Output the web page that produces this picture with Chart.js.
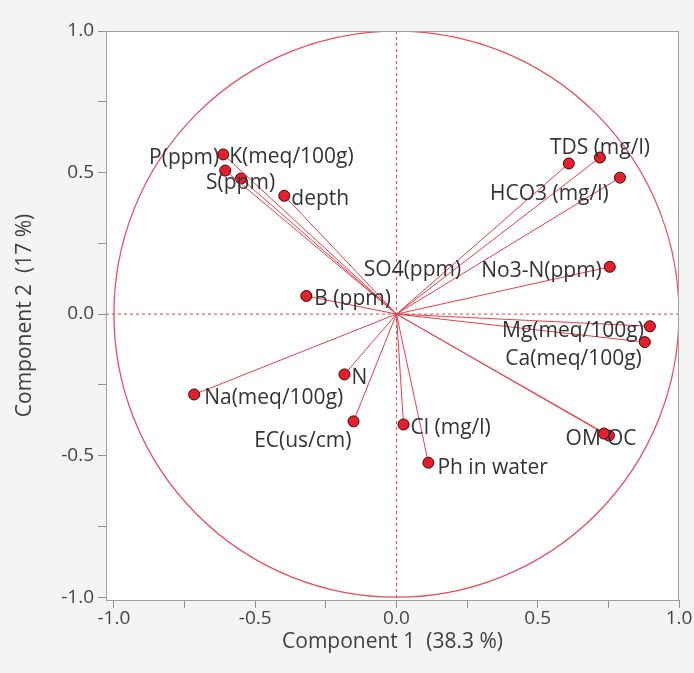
<!DOCTYPE html>
<html>
<head>
<meta charset="utf-8">
<script src="https://cdn.jsdelivr.net/npm/chart.js@4.4.0/dist/chart.umd.min.js"></script>
<style>
  html, body { margin: 0; padding: 0; background: #f4f4f4; }
  #wrap { width: 694px; height: 673px; }
</style>
</head>
<body>
<div id="wrap"><canvas id="c" width="694" height="673"></canvas></div>
<script>
// ---- data ----
const variables = ['P(ppm)', 'K(meq/100g)', 'S(ppm)', 'depth', 'TDS (mg/l)', 'HCO3 (mg/l)', 'SO4(ppm)',
  'No3-N(ppm)', 'B (ppm)', 'Mg(meq/100g)', 'Ca(meq/100g)', 'OM', 'OC', 'Na(meq/100g)', 'N',
  'EC(us/cm)', 'Cl (mg/l)', 'Ph in water'];
const component1 = [-0.606, -0.613, -0.550, -0.397, 0.720, 0.791, 0.610, 0.755, -0.319, 0.897, 0.879,
  0.734, 0.752, -0.716, -0.184, -0.152, 0.025, 0.113];
const component2 = [0.507, 0.564, 0.479, 0.418, 0.553, 0.482, 0.532, 0.167, 0.064, -0.043, -0.099,
  -0.422, -0.429, -0.284, -0.213, -0.379, -0.390, -0.525];
const tickValues = [-1, -0.75, -0.5, -0.25, 0, 0.25, 0.5, 0.75, 1];
const tickLabels = ['-1.0', '', '-0.5', '', '0.0', '', '0.5', '', '1.0'];
const xTitle = 'Component 1  (38.3 %)';
const yTitle = 'Component 2  (17 %)';

// ---- label placement (style, not data): [dx, dy, align] ----
const labelPlacement = [
  [-6, -15, 'right'], [6, 1, 'left'], [-35, 3, 'left'], [7, 1, 'left'],
  [-50, -12, 'left'], [-130, 14, 'left'], [-205, 105, 'left'], [-8, 2, 'right'],
  [8, 1, 'left'], [-6, 3, 'right'], [-3, 15, 'right'], [-3, 3, 'right'],
  [-2, 1, 'left'], [10, 2, 'left'], [7, 2, 'left'], [-2, 18, 'right'],
  [7, 2, 'left'], [9, 3, 'left']
];
const LABEL_SHIFT_Y = 2;

const FONT = '"Open Sans", "Noto Sans", sans-serif';
const RED = '#e8404a';

const datasets = variables.map((name, i) => ({
  label: name,
  data: [{x: 0, y: 0}, {x: component1[i], y: component2[i]}],
  showLine: true,
  borderColor: RED,
  borderWidth: 1,
  pointRadius: [0, 5.5],
  pointBackgroundColor: '#e5202c',
  pointBorderColor: '#3a0508',
  pointBorderWidth: 1,
  order: 1
}));

const bgPlugin = {
  id: 'bg',
  beforeDraw(chart) {
    const {ctx, chartArea: a} = chart;
    ctx.save();
    ctx.fillStyle = '#f4f4f4';
    ctx.fillRect(0, 0, chart.width, chart.height);
    ctx.fillStyle = '#ffffff';
    ctx.fillRect(a.left, a.top, a.right - a.left, a.bottom - a.top);
    ctx.restore();
  },
  beforeDatasetsDraw(chart) {
    const {ctx, chartArea: a, scales: {x, y}} = chart;
    ctx.save();
    ctx.beginPath();
    ctx.rect(a.left, a.top, a.right - a.left, a.bottom - a.top);
    ctx.clip();
    ctx.strokeStyle = RED;
    ctx.lineWidth = 1;
    ctx.setLineDash([3, 3]);
    const x0 = x.getPixelForValue(0), y0 = y.getPixelForValue(0);
    ctx.beginPath();
    ctx.moveTo(x0, a.top); ctx.lineTo(x0, a.bottom);
    ctx.moveTo(a.left, y0); ctx.lineTo(a.right, y0);
    ctx.stroke();
    ctx.setLineDash([]);
    const rx = x.getPixelForValue(1) - x0;
    const ry = y0 - y.getPixelForValue(1);
    ctx.strokeStyle = '#e4505a';
    ctx.lineWidth = 1.3;
    ctx.beginPath();
    ctx.ellipse(x0, y0, rx, ry, 0, 0, Math.PI * 2);
    ctx.stroke();
    ctx.restore();
  },
  afterDatasetsDraw(chart) {
    const {ctx} = chart;
    ctx.save();
    ctx.font = '21px ' + FONT;
    ctx.fillStyle = '#333333';
    ctx.textBaseline = 'middle';
    chart.data.datasets.forEach((ds, i) => {
      const el = chart.getDatasetMeta(i).data[1];
      const [dx, dy, al] = labelPlacement[i];
      ctx.textAlign = al;
      ctx.fillText(ds.label, el.x + dx, el.y + dy + LABEL_SHIFT_Y);
    });
    ctx.restore();
  },
  afterDraw(chart) {
    const {ctx, chartArea: a} = chart;
    ctx.save();
    ctx.strokeStyle = '#a0a0a0';
    ctx.lineWidth = 1;
    ctx.strokeRect(a.left + 0.5, a.top + 0.5, a.right - a.left - 1, a.bottom - a.top);
    ctx.restore();
  }
};

const tickCb = (v) => {
  const idx = tickValues.findIndex(t => Math.abs(t - v) < 1e-6);
  return idx >= 0 ? tickLabels[idx] : '';
};

new Chart(document.getElementById('c'), {
  type: 'scatter',
  data: { datasets },
  options: {
    responsive: false,
    animation: false,
    devicePixelRatio: 1,
    layout: { padding: { top: 31, right: 15, left: 0, bottom: 0 } },
    plugins: { legend: { display: false }, tooltip: { enabled: false } },
    scales: {
      x: {
        type: 'linear',
        min: -1.028, max: 1.0,
        afterBuildTicks: (s) => { s.ticks = tickValues.map(v => ({value: v})); },
        afterFit: (s) => { s.height = 73; },
        grid: { drawOnChartArea: false, tickLength: 8, color: '#909090', drawTicks: true },
        border: { display: false },
        ticks: { autoSkip: false, maxRotation: 0, callback: tickCb, color: '#444', padding: -1,
                 font: { family: FONT, size: 19 } },
        title: { display: true, text: xTitle, color: '#404040', padding: { top: 0, bottom: 18 },
                 font: { family: FONT, size: 21 } }
      },
      y: {
        type: 'linear',
        min: -1.01, max: 1.0,
        afterBuildTicks: (s) => { s.ticks = tickValues.map(v => ({value: v})); },
        afterFit: (s) => { s.width = 106; },
        grid: { drawOnChartArea: false, tickLength: 8, color: '#909090', drawTicks: true },
        border: { display: false },
        ticks: { autoSkip: false, callback: tickCb, color: '#444', padding: 4,
                 font: { family: FONT, size: 19 } },
        title: { display: true, text: yTitle, color: '#404040', padding: { top: 12, bottom: 0 },
                 font: { family: FONT, size: 21 } }
      }
    }
  },
  plugins: [bgPlugin]
});
</script>
</body>
</html>
